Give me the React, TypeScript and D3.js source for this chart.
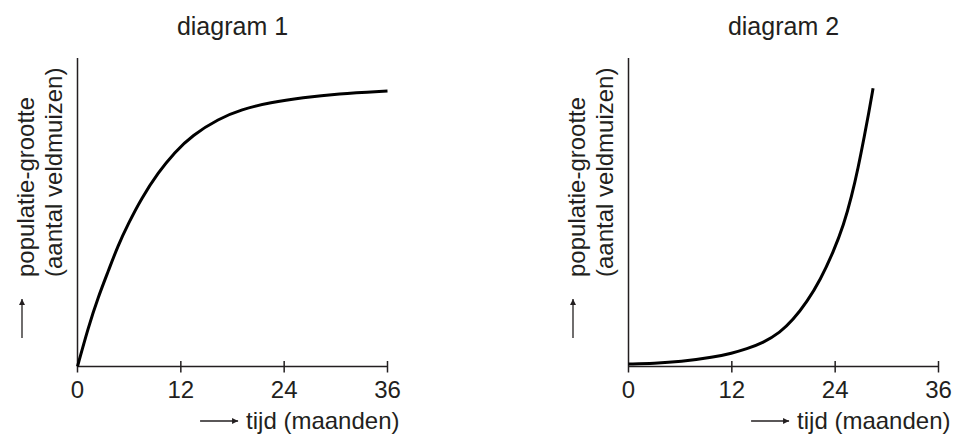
import React, { useEffect, useRef } from 'react';
import * as d3 from 'd3';

// months on the x axis
const xTicks = [0, 12, 24, 36];
const xTickLabels = ['0', '12', '24', '36'];

// diagram 1: population levelling off
const months1 = [0, 1.25, 2.4, 3.6, 4.7, 5.9, 7.4, 9.4, 11.3, 13.3, 16.4, 19, 22.4, 26.2, 30.1, 36];
const values1 = [0, 12.7, 22.5, 31.1, 39.2, 46.3, 54.4, 63.0, 69.5, 74.9, 80.3, 83.3, 85.6, 87.2, 88.4, 89.3];

// diagram 2: population growing exponentially
const months2 = [0, 3, 6, 9.9, 12, 13.7, 15.65, 17.6, 19.1, 20.7, 22.3, 23.8, 25, 25.9, 26.7, 27.3, 27.9, 28.4];
const values2 = [0.8, 1.0, 1.5, 3.0, 4.3, 5.7, 7.7, 11.0, 15.1, 20.8, 28.2, 37.2, 46.0, 55.0, 64.8, 73.4, 82.1, 90.2];

const titles = ['diagram 1', 'diagram 2'];
const yLabel1 = 'populatie-grootte';
const yLabel2 = '(aantal veldmuizen)';
const xLabel = 'tijd (maanden)';

const W = 955;
const H = 437;
const INK = '#231f20';
const FONT = '"Liberation Sans", Arial, Helvetica, sans-serif';

const App: React.FC = () => {
  const svgRef = useRef<SVGSVGElement>(null);

  useEffect(() => {
    if (!svgRef.current) return;
    const svg = d3.select(svgRef.current);
    svg.selectAll('*').remove();

    const defs = svg.append('defs');
    defs.append('marker')
      .attr('id', 'arrowHead')
      .attr('viewBox', '0 0 10 10')
      .attr('refX', 10)
      .attr('refY', 5)
      .attr('markerWidth', 10)
      .attr('markerHeight', 6)
      .attr('markerUnits', 'userSpaceOnUse')
      .attr('orient', 'auto')
      .append('path')
      .attr('d', 'M0,0 L10,5 L0,10 Z')
      .attr('fill', INK);

    const panels = [
      { left: 77.5, months: months1, values: values1 },
      { left: 628.5, months: months2, values: values2 },
    ];
    const top = 58;
    const bottom = 366.5;
    const plotW = 310;

    panels.forEach((p, idx) => {
      const x = d3.scaleLinear().domain([0, 36]).range([p.left, p.left + plotW]);
      const y = d3.scaleLinear().domain([0, 100]).range([bottom, top]);
      const g = svg.append('g');

      // title
      g.append('text')
        .attr('x', (x(0) + x(36)) / 2)
        .attr('y', 35)
        .attr('text-anchor', 'middle')
        .attr('font-size', 25)
        .attr('font-family', FONT)
        .attr('fill', INK)
        .text(titles[idx]);

      // axes
      g.append('line')
        .attr('x1', x(0)).attr('x2', x(0))
        .attr('y1', top).attr('y2', bottom + 6)
        .attr('stroke', INK).attr('stroke-width', 1.5);
      g.append('line')
        .attr('x1', x(0)).attr('x2', x(36))
        .attr('y1', bottom).attr('y2', bottom)
        .attr('stroke', INK).attr('stroke-width', 1.5);

      g.selectAll('.tick')
        .data(xTicks.filter(t => t > 0))
        .enter().append('line')
        .attr('x1', d => x(d)).attr('x2', d => x(d))
        .attr('y1', bottom - 5.5).attr('y2', bottom + 6)
        .attr('stroke', INK).attr('stroke-width', 1.5);

      g.selectAll('.tickLabel')
        .data(xTicks)
        .enter().append('text')
        .attr('x', d => x(d))
        .attr('y', 398)
        .attr('text-anchor', 'middle')
        .attr('font-size', 24)
        .attr('font-family', FONT)
        .attr('fill', INK)
        .text((d, i) => xTickLabels[i]);

      // x title with arrow
      const xt = g.append('text')
        .attr('x', x(36) + 12)
        .attr('y', 429)
        .attr('text-anchor', 'end')
        .attr('font-size', 24)
        .attr('font-family', FONT)
        .attr('fill', INK)
        .text(xLabel);
      const tw = (xt.node() as SVGTextElement).getComputedTextLength();
      const arrowEnd = x(36) + 12 - tw - 8;
      g.append('line')
        .attr('x1', arrowEnd - 38).attr('x2', arrowEnd)
        .attr('y1', 421).attr('y2', 421)
        .attr('stroke', INK).attr('stroke-width', 1.3)
        .attr('marker-end', 'url(#arrowHead)');

      // y title, two rotated lines, with arrow below
      const yStart = 277;
      g.append('text')
        .attr('transform', `translate(${x(0) - 44},${yStart}) rotate(-90)`)
        .attr('font-size', 24)
        .attr('font-family', FONT)
        .attr('fill', INK)
        .text(yLabel1);
      g.append('text')
        .attr('transform', `translate(${x(0) - 16},${yStart}) rotate(-90)`)
        .attr('font-size', 24)
        .attr('font-family', FONT)
        .attr('fill', INK)
        .text(yLabel2);
      g.append('line')
        .attr('x1', x(0) - 55.5).attr('x2', x(0) - 55.5)
        .attr('y1', 338).attr('y2', 299)
        .attr('stroke', INK).attr('stroke-width', 1.3)
        .attr('marker-end', 'url(#arrowHead)');

      // curve (basis smooths out the hand-read wobble)
      const pts = p.months.map((m, i) => [m, p.values[i]] as [number, number]);
      const line = d3.line<[number, number]>()
        .x(d => x(d[0]))
        .y(d => y(d[1]))
        .curve(d3.curveBasis);
      g.append('path')
        .datum(pts)
        .attr('fill', 'none')
        .attr('stroke', '#000')
        .attr('stroke-width', 3)
        .attr('stroke-linejoin', 'round')
        .attr('d', line);
    });
  }, []);

  return (
    <div style={{ position: 'absolute', left: 0, top: 0, background: '#fff' }}>
      <svg ref={svgRef} width={W} height={H} style={{ display: 'block' }} />
    </div>
  );
};

export default App;
